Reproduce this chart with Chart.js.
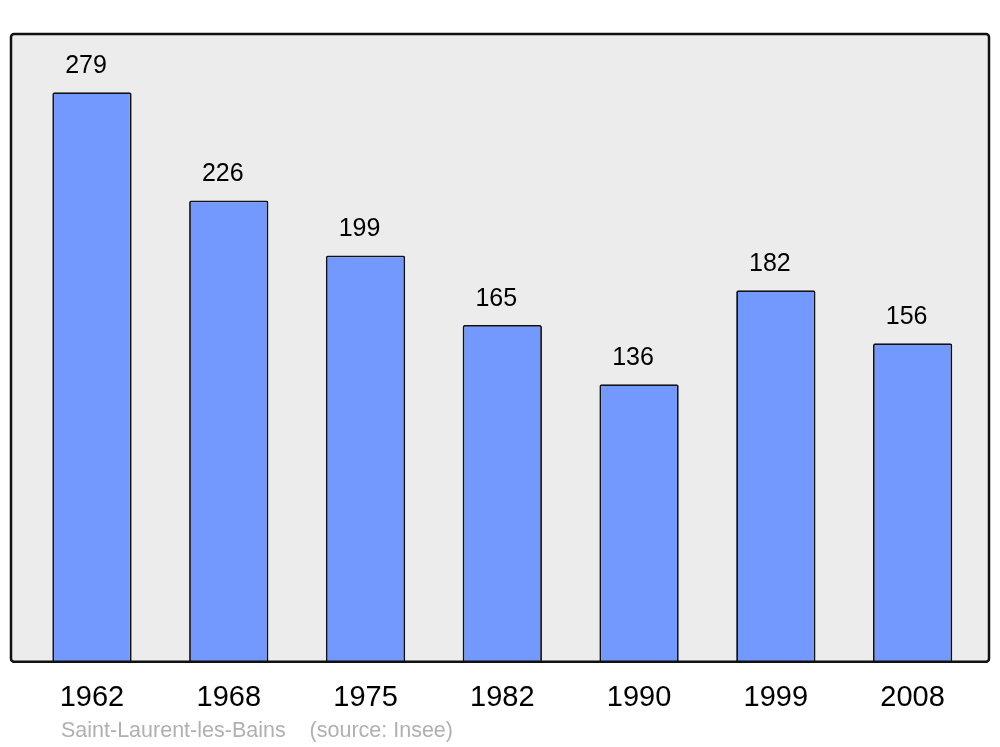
<!DOCTYPE html>
<html>
<head>
<meta charset="utf-8">
<script src="https://cdn.jsdelivr.net/npm/chart.js@4/dist/chart.umd.min.js"></script>
<style>
  html, body { margin: 0; padding: 0; background: #ffffff; }
  #wrap { width: 1000px; height: 747px; position: relative; }
</style>
</head>
<body>
<div id="wrap"><canvas id="chart" width="1000" height="747"></canvas></div>
<script>
const years = ['1962', '1968', '1975', '1982', '1990', '1999', '2008'];
const population = [279, 226, 199, 165, 136, 182, 156];
const footerText = 'Saint-Laurent-les-Bains    (source: Insee)';

// cadre gris arrondi derrière les barres
const framePlugin = {
  id: 'frame',
  beforeDatasetsDraw(chart) {
    const { ctx, chartArea } = chart;
    ctx.save();
    ctx.beginPath();
    ctx.roundRect(chartArea.left - 12.6, chartArea.top, chartArea.width + 20.6, chartArea.height, 3);
    ctx.fillStyle = '#ececec';
    ctx.fill();
    ctx.restore();
  },
  afterDatasetsDraw(chart) {
    const { ctx, chartArea } = chart;
    ctx.save();
    ctx.beginPath();
    ctx.roundRect(chartArea.left - 12.6, chartArea.top, chartArea.width + 20.6, chartArea.height, 3);
    ctx.lineWidth = 2.5;
    ctx.strokeStyle = '#111111';
    ctx.stroke();

    // valeurs au-dessus des barres
    const meta = chart.getDatasetMeta(0);
    ctx.fillStyle = '#000000';
    ctx.font = '25px "Liberation Sans", Arial, sans-serif';
    ctx.textAlign = 'center';
    ctx.textBaseline = 'middle';
    meta.data.forEach((bar, i) => {
      ctx.fillText(String(population[i]), bar.x - 6, bar.y - 26);
    });

    // source
    ctx.fillStyle = '#b0b0b0';
    ctx.font = '21.5px "Liberation Sans", Arial, sans-serif';
    ctx.textAlign = 'left';
    ctx.textBaseline = 'middle';
    ctx.fillText(footerText, 61, 731);
    ctx.restore();
  }
};

new Chart(document.getElementById('chart'), {
  type: 'bar',
  data: {
    labels: years,
    datasets: [{
      data: population,
      backgroundColor: '#7399ff',
      borderColor: '#111111',
      borderWidth: 1.8,
      borderRadius: 2,
      borderSkipped: 'start',
      categoryPercentage: 1,
      barPercentage: 0.58,
    }],
  },
  options: {
    responsive: false,
    animation: false,
    devicePixelRatio: 1,
    layout: {
      padding: { left: 23.6, right: 19, top: 34, bottom: 12.4 },
    },
    plugins: {
      legend: { display: false },
      tooltip: { enabled: false },
      title: { display: false },
    },
    scales: {
      x: {
        grid: { display: false, drawTicks: false },
        border: { display: false },
        ticks: {
          color: '#000000',
          padding: 19,
          font: { family: '"Liberation Sans", Arial, sans-serif', size: 29 },
        },
      },
      y: {
        display: false,
        min: 0,
        max: 307.5,
      },
    },
  },
  plugins: [framePlugin],
});
</script>
</body>
</html>
